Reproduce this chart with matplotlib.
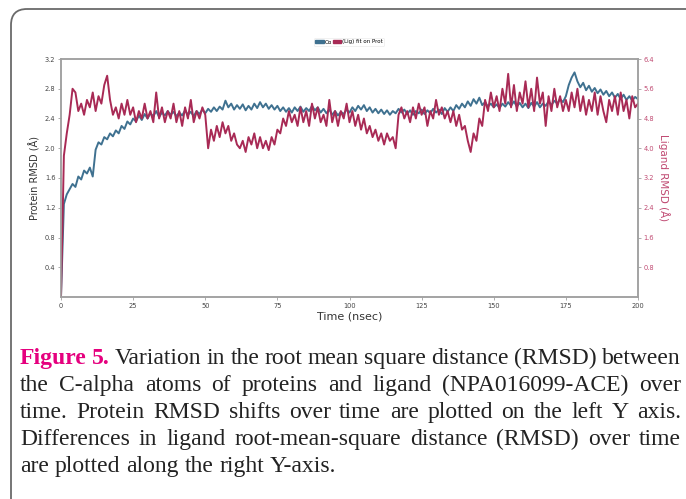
import numpy as np
from matplotlib import pyplot as plt
from matplotlib.patches import FancyBboxPatch, Patch

# time axis, 1 ns steps
time_ns = np.arange(0, 201)

# protein C-alpha RMSD (left axis, Angstrom)
prot_rmsd = [
    0.00, 1.25, 1.38, 1.45, 1.52, 1.48, 1.62, 1.58, 1.70, 1.66,
    1.74, 1.62, 1.98, 2.08, 2.05, 2.15, 2.12, 2.20, 2.16, 2.24,
    2.20, 2.30, 2.26, 2.36, 2.32, 2.40, 2.36, 2.44, 2.38, 2.46,
    2.40, 2.47, 2.43, 2.50, 2.42, 2.48, 2.44, 2.50, 2.45, 2.49,
    2.43, 2.48, 2.44, 2.51, 2.45, 2.49, 2.43, 2.50, 2.46, 2.52,
    2.47, 2.53, 2.49, 2.55, 2.50, 2.56, 2.52, 2.64, 2.55, 2.60,
    2.52, 2.58, 2.53, 2.59, 2.51, 2.57, 2.52, 2.60, 2.54, 2.62,
    2.55, 2.60, 2.53, 2.58, 2.52, 2.57, 2.50, 2.55, 2.49, 2.54,
    2.48, 2.55, 2.50, 2.56, 2.49, 2.54, 2.50, 2.57, 2.51, 2.55,
    2.48, 2.53, 2.47, 2.52, 2.45, 2.50, 2.44, 2.49, 2.46, 2.52,
    2.48, 2.55, 2.50, 2.57, 2.52, 2.58, 2.50, 2.55, 2.48, 2.53,
    2.47, 2.52, 2.46, 2.51, 2.45, 2.50, 2.47, 2.53, 2.48, 2.52,
    2.46, 2.51, 2.45, 2.50, 2.47, 2.52, 2.46, 2.51, 2.47, 2.53,
    2.48, 2.52, 2.46, 2.54, 2.49, 2.55, 2.50, 2.58, 2.53, 2.60,
    2.55, 2.63, 2.57, 2.66, 2.60, 2.68, 2.58, 2.62, 2.56, 2.60,
    2.55, 2.59, 2.54, 2.60, 2.56, 2.62, 2.57, 2.63, 2.56, 2.61,
    2.55, 2.60, 2.54, 2.61, 2.56, 2.62, 2.55, 2.60, 2.57, 2.63,
    2.58, 2.64, 2.60, 2.66, 2.62, 2.70, 2.85, 2.95, 3.02, 2.90,
    2.82, 2.88, 2.78, 2.84, 2.76, 2.81, 2.74, 2.79, 2.72, 2.77,
    2.70, 2.75, 2.68, 2.73, 2.66, 2.72, 2.65, 2.70, 2.64, 2.69,
    2.66,
]

# ligand RMSD fit on protein (right axis, Angstrom)
lig_rmsd = [
    0.0, 3.8, 4.4, 4.9, 5.6, 5.5, 5.0, 5.2, 4.9, 5.3,
    5.1, 5.5, 5.0, 5.4, 5.2, 5.7, 5.95, 5.3, 4.9, 5.1,
    4.8, 5.2, 4.9, 5.3, 4.9, 5.1, 4.7, 5.0, 4.8, 5.2,
    4.8, 5.0, 4.7, 5.5, 4.8, 5.1, 4.7, 5.0, 4.8, 5.2,
    4.7, 5.0, 4.6, 5.1, 4.8, 5.3, 4.7, 5.0, 4.8, 5.1,
    4.9, 4.0, 4.5, 4.2, 4.6, 4.3, 4.7, 4.4, 4.6, 4.2,
    4.4, 4.1, 4.0, 4.2, 3.9, 4.3, 4.1, 4.4, 4.0, 4.3,
    4.0, 4.2, 3.95, 4.3, 4.1, 4.5, 4.4, 4.8, 4.6, 5.0,
    4.7, 4.9, 4.6, 5.1, 4.7, 5.0, 4.6, 5.2, 4.8, 5.1,
    4.7, 4.9, 4.6, 5.3, 4.7, 5.0, 4.6, 5.0, 4.8, 5.2,
    4.7, 5.0, 4.6, 4.9, 4.5, 4.8, 4.4, 4.6, 4.3, 4.5,
    4.2, 4.4, 4.1, 4.4, 4.2, 4.3, 4.0, 4.9, 5.1, 4.8,
    5.0, 4.7, 5.1, 4.8, 5.2, 4.9, 5.1, 4.6, 5.0, 4.8,
    5.3, 4.9, 5.1, 4.8, 5.0, 4.7, 5.0, 4.6, 4.9, 4.5,
    4.6, 4.2, 3.9, 4.4, 4.2, 4.8, 4.6, 5.3, 5.0, 5.5,
    5.1, 5.4, 5.0, 5.6, 5.2, 6.0, 5.1, 5.7, 5.0, 5.5,
    5.2, 5.8, 5.1, 5.6, 5.0, 5.9, 5.2, 5.5, 4.6, 5.4,
    5.0, 5.6, 5.1, 5.4, 5.0, 5.3, 5.0, 5.5, 5.1, 5.6,
    5.0, 5.4, 4.9, 5.3, 5.0, 5.5, 4.9, 5.4, 5.0, 4.7,
    5.3, 5.0, 5.4, 4.9, 5.5, 5.0, 5.3, 4.8, 5.4, 5.1,
    5.2,
]

x_ticks = [0, 25, 50, 75, 100, 125, 150, 175, 200]
left_ticks = [0.4, 0.8, 1.2, 1.6, 2.0, 2.4, 2.8, 3.2]
right_ticks = [0.8, 1.6, 2.4, 3.2, 4.0, 4.8, 5.6, 6.4]

caption_lines = [
    "Variation in the root mean square distance (RMSD) between",
    "the C-alpha atoms of proteins and ligand (NPA016099-ACE) over",
    "time. Protein RMSD shifts over time are plotted on the left Y axis.",
    "Differences in ligand root-mean-square distance (RMSD) over time",
    "are plotted along the right Y-axis.",
]

blue = '#3f7190'
red = '#a82a55'
lab_red = '#c04a72'
spine_c = '#a0a0a0'

W, H = 686, 499
fig = plt.figure(figsize=(W / 100, H / 100), dpi=100)

# overlay in pixel units for the frame and the caption
bg = fig.add_axes([0, 0, 1, 1])
bg.set_xlim(0, W)
bg.set_ylim(H, 0)
bg.axis('off')
frame = FancyBboxPatch((11, 9), 700, 520, boxstyle='round,pad=0,rounding_size=16',
                       fc='none', ec='#6a6a6a', lw=1.3)
bg.add_patch(frame)

ax1 = fig.add_axes([61 / W, 1 - 297 / H, (638 - 61) / W, (297 - 59) / H])
ax2 = ax1.twinx()

ax1.plot(time_ns, prot_rmsd, color=blue, lw=1.4)
ax2.plot(time_ns, lig_rmsd, color=red, lw=1.4)

ax1.set_xlim(0, 200)
ax1.set_ylim(0, 3.2)
ax2.set_ylim(0, 6.4)
ax1.set_xticks(x_ticks)
ax1.set_yticks(left_ticks)
ax2.set_yticks(right_ticks)
ax1.tick_params(axis='both', labelsize=4.8, colors='#444444', length=2, width=0.6, pad=2)
ax1.tick_params(axis='both', color=spine_c)
ax2.tick_params(axis='y', labelsize=4.8, labelcolor=lab_red, color=spine_c,
                length=2, width=0.6, pad=2)
for a in (ax1, ax2):
    for s in a.spines.values():
        s.set_color(spine_c)
        s.set_linewidth(1.1)

ax1.set_xlabel("Time (nsec)", fontsize=8, color='#333333', labelpad=2)
ax1.set_ylabel("Protein RMSD (Å)", fontsize=7, color='#333333', labelpad=3)
ax2.set_ylabel("Ligand RMSD (Å)", fontsize=7.5, color=lab_red, rotation=270, labelpad=11)

handles = [Patch(color=blue), Patch(color=red)]
leg = fig.legend(handles, ["Cα", "(Lig) fit on Prot"], ncol=2, loc='center',
                 bbox_to_anchor=(349 / W, 1 - 42 / H), fontsize=4, frameon=True,
                 handlelength=1.6, handleheight=0.6, handletextpad=0.1,
                 columnspacing=0.1, borderpad=0.3, fancybox=True)
leg.get_frame().set_edgecolor('#e6e6e6')
leg.get_frame().set_linewidth(0.5)

# justified caption: biggest size that still fits every justified line
serif = 'Liberation Serif'
left_x, right_x = 20, 681
baselines = [364, 391, 418, 445, 472]
fig.canvas.draw()
rend = fig.canvas.get_renderer()


def make_tokens(i, line):
    toks = [(w, dict(color='#222222')) for w in line.split(' ')]
    if i == 0:
        toks = [("Figure", dict(color='#e5007e', weight='bold')),
                ("5.", dict(color='#e5007e', weight='bold'))] + toks
    return toks


def word_widths(toks, fs):
    out = []
    for w, kw in toks:
        t = bg.text(0, 0, w, fontsize=fs, family=serif, **kw)
        out.append(t.get_window_extent(rend).width)
        t.remove()
    return out


fs = 19.0
while fs > 12:
    ok = True
    for i, line in enumerate(caption_lines[:-1]):
        toks = make_tokens(i, line)
        ww = word_widths(toks, fs)
        if (right_x - left_x - sum(ww)) / (len(ww) - 1) < 0.2 * fs * 1.39:
            ok = False
            break
    if ok:
        break
    fs -= 0.25

space = 0.25 * fs * 1.39
for i, line in enumerate(caption_lines):
    toks = make_tokens(i, line)
    ww = word_widths(toks, fs)
    if i < len(caption_lines) - 1:
        gap = (right_x - left_x - sum(ww)) / (len(ww) - 1)
    else:
        gap = space
    x = left_x
    for (w, kw), wd in zip(toks, ww):
        bg.text(x, baselines[i], w, fontsize=fs, family=serif, va='baseline', ha='left', **kw)
        x += wd + gap

fig.savefig('out.png', dpi=100)
